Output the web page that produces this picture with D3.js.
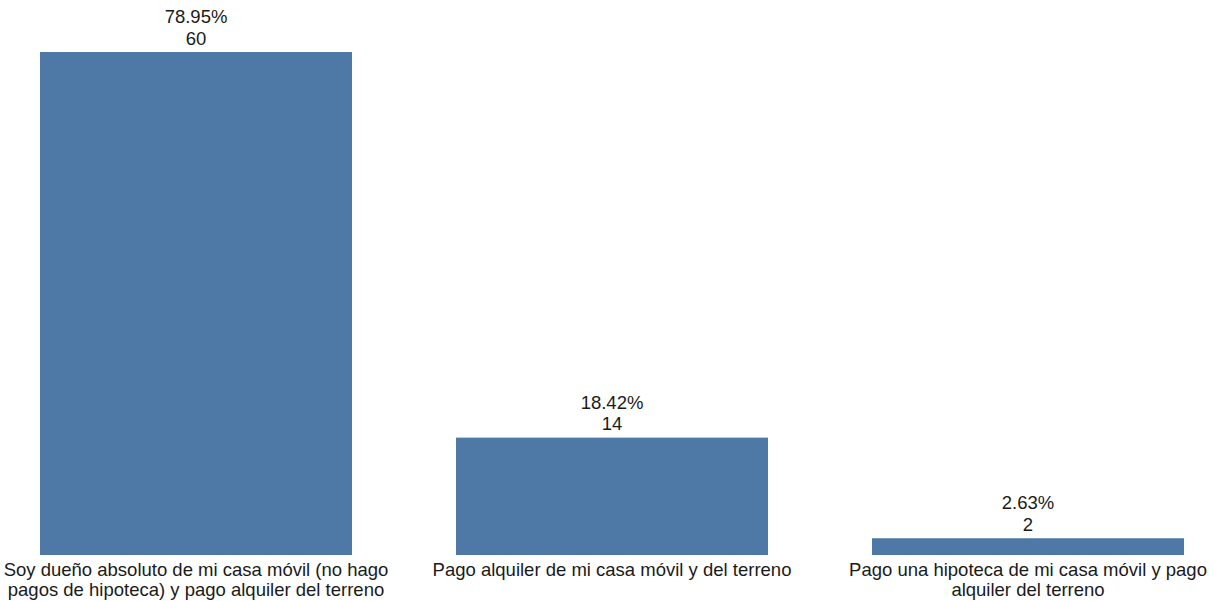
<!DOCTYPE html>
<html><head><meta charset="utf-8">
<script src="https://cdn.jsdelivr.net/npm/d3@7"></script>
<style>body{margin:0;background:#fff}svg{display:block}text{font-family:"Liberation Sans",Arial,sans-serif;fill:#1a1a1a}</style>
</head><body>
<svg id="c" width="1214" height="601"></svg>
<script>
const categories = [
  ["Soy dueño absoluto de mi casa móvil (no hago", "pagos de hipoteca) y pago alquiler del terreno"],
  ["Pago alquiler de mi casa móvil y del terreno"],
  ["Pago una hipoteca de mi casa móvil y pago", "alquiler del terreno"]
];
const counts = [60, 14, 2];
const percents = ["78.95%", "18.42%", "2.63%"];

const svg = d3.select("#c");
const idx = d3.range(counts.length);
const x = d3.scaleBand().domain(idx).range([-12, 1236]).paddingInner(0.25).paddingOuter(0.125);
const y = d3.scaleLinear().domain([0, 60]).range([555, 52]);

svg.selectAll("rect.bar").data(idx).join("rect")
  .attr("class", "bar")
  .attr("x", i => x(i)).attr("width", x.bandwidth())
  .attr("y", i => y(counts[i])).attr("height", i => y(0) - y(counts[i]))
  .attr("fill", "#4e79a7");

const vl = svg.selectAll("text.val").data(idx).join("text")
  .attr("class", "val").attr("text-anchor", "middle").attr("font-size", 18.5);
vl.append("tspan").attr("x", i => x(i) + x.bandwidth() / 2).attr("y", i => y(counts[i]) - 29).text(i => percents[i]);
vl.append("tspan").attr("x", i => x(i) + x.bandwidth() / 2).attr("y", i => y(counts[i]) - 7.5).text(i => counts[i]);

const cl = svg.selectAll("text.cat").data(idx).join("text")
  .attr("class", "cat").attr("text-anchor", "middle").attr("font-size", 18.5);
cl.each(function(i) {
  const t = d3.select(this);
  categories[i].forEach((line, k) => {
    t.append("tspan").attr("x", x(i) + x.bandwidth() / 2).attr("y", 576 + k * 19.5).text(line);
  });
});
</script>
</body></html>
